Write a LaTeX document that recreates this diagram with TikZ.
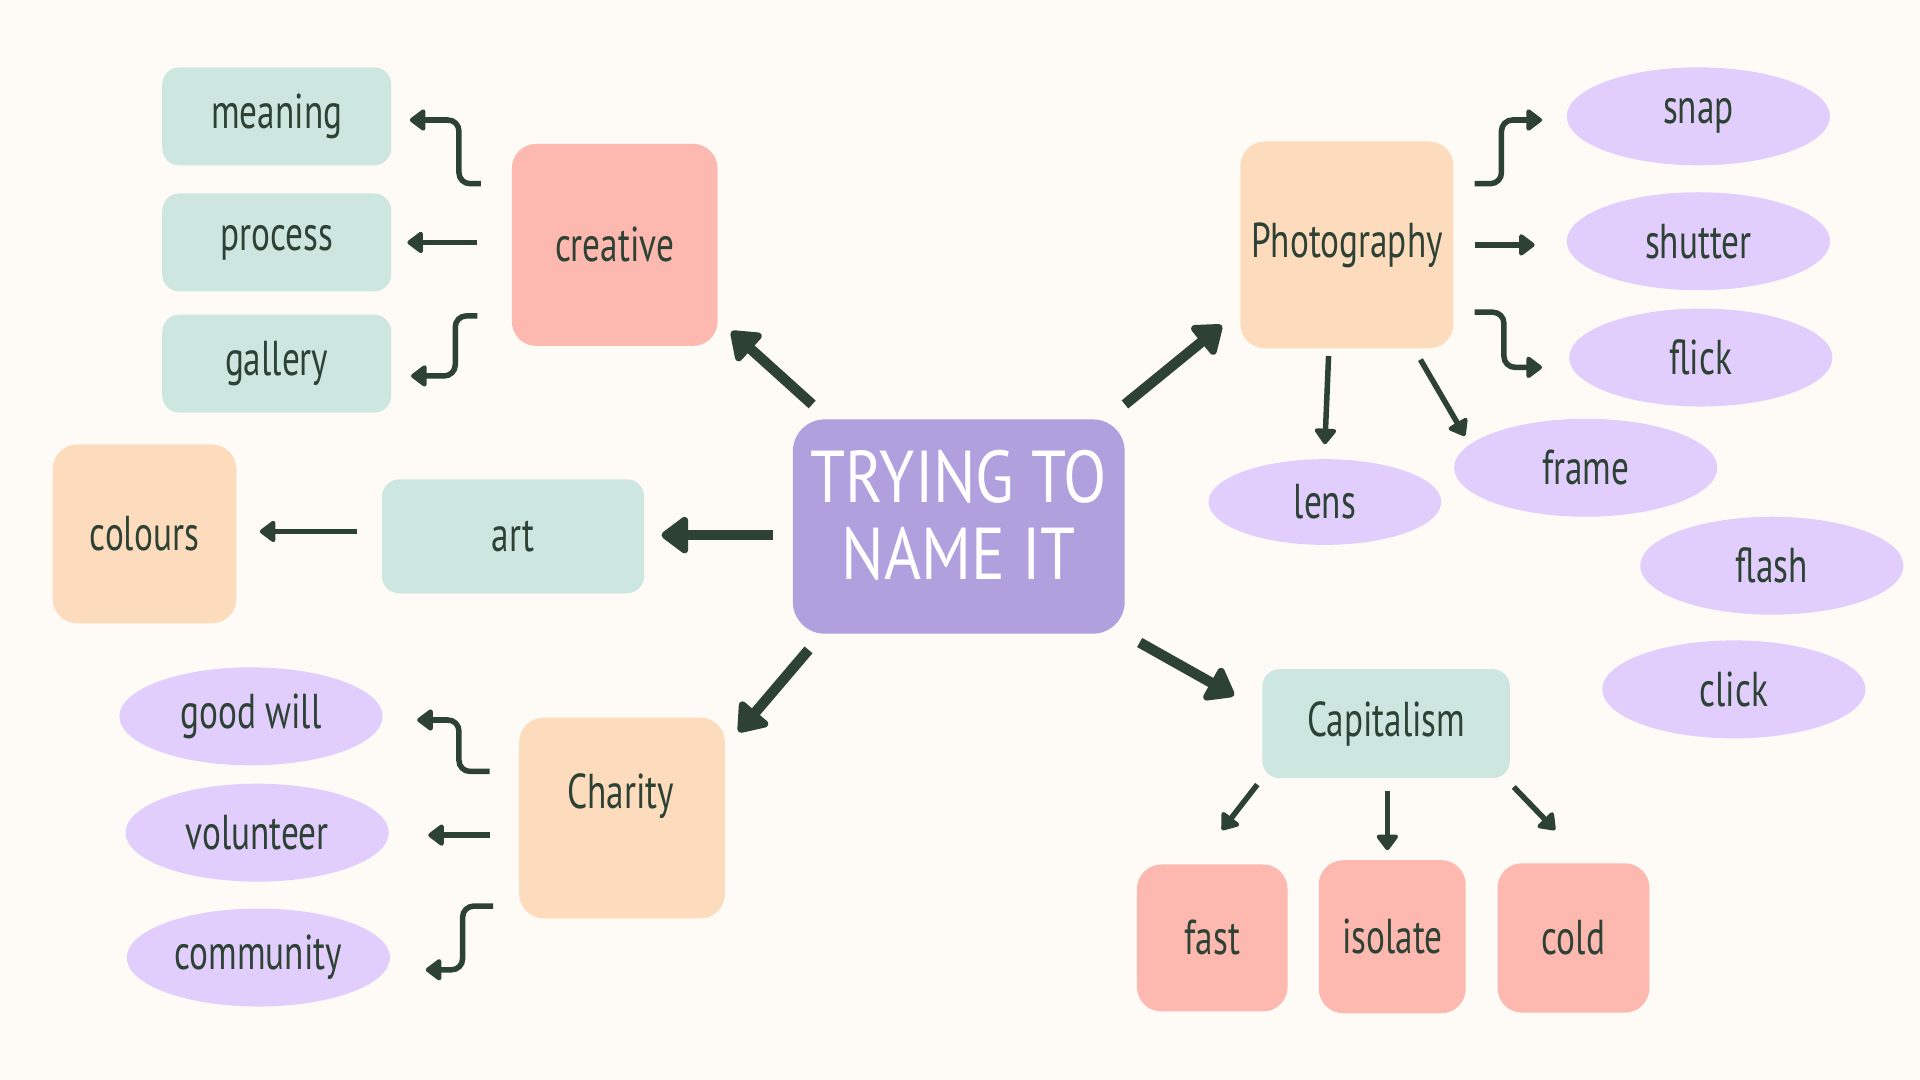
\documentclass[tikz,border=0pt]{standalone}
\usepackage{fontspec}
\setmainfont[FakeStretch=0.72]{PT Sans}
\newfontfamily\titlefont[FakeStretch=0.86]{PT Sans}
\usetikzlibrary{arrows.meta,shapes.geometric,calc}
\definecolor{bg}{HTML}{FEFBF7}
\definecolor{tealc}{HTML}{CDE6DF}
\definecolor{pinkc}{HTML}{FDB8AF}
\definecolor{peachc}{HTML}{FDDCBD}
\definecolor{lavc}{HTML}{E1CEFC}
\definecolor{purpc}{HTML}{B1A0DE}
\definecolor{ink}{HTML}{2D4235}
\begin{document}
\begin{tikzpicture}[x=1pt,y=-1pt,
  lbl/.style={text=ink,font=\fontsize{40}{44}\selectfont,inner sep=0pt},
  tealbox/.style={lbl,fill=tealc,rounded corners=14pt},
  pinkbox/.style={lbl,fill=pinkc,rounded corners=20pt},
  peachbox/.style={lbl,fill=peachc,rounded corners=20pt},
  lav/.style={lbl,fill=lavc,ellipse,minimum width=215pt,minimum height=80pt},
  sarr/.style={draw=ink,line width=4.5pt,-{Triangle[length=14pt,width=20pt,round]}},
  barr/.style={draw=ink,line width=8.5pt,-{Triangle[length=24pt,width=34pt,round]}},
  elb/.style={sarr,rounded corners=9pt}
]
\fill[bg] (0,0) rectangle (1568,882);
\useasboundingbox (0,0) rectangle (1568,882);

% center
\node[fill=purpc,rounded corners=26pt,minimum width=271pt,minimum height=175pt,inner sep=0pt] (main) at (783,430) {};
\node[text=white,font=\titlefont\fontsize{60}{63}\selectfont,align=center,inner sep=0pt] (title) at (783,421) {TRYING TO\\NAME IT};

% creative branch
\node[pinkbox,minimum width=168pt,minimum height=165pt] (creative) at (502,200) {creative};
\node[tealbox,minimum width=187pt,minimum height=80pt] (meaning) at (226,95) {meaning};
\node[tealbox,minimum width=187pt,minimum height=80pt] (process) at (226,198) {process};
\node[tealbox,minimum width=187pt,minimum height=80pt] (gallery) at (226,297) {gallery};

% art branch
\node[tealbox,minimum width=214pt,minimum height=93pt] (art) at (419,438) {art};
\node[peachbox,minimum width=150pt,minimum height=146pt] (colours) at (118,436) {colours};

% charity branch
\node[peachbox,minimum width=168pt,minimum height=164pt] (charity) at (508,668) {};
\node[lbl] (charitytxt) at (507,650) {Charity};
\node[lav] (goodwill) at (205,585) {good will};
\node[lav] (volunteer) at (210,680) {volunteer};
\node[lav] (community) at (211,782) {community};

% photography branch
\node[peachbox,minimum width=174pt,minimum height=169pt] (photo) at (1100,200) {Photography};
\node[lav] (snap) at (1387,95) {snap};
\node[lav] (shutter) at (1387,197) {shutter};
\node[lav] (flick) at (1389,292) {flick};
\node[lav] (frame) at (1295,382) {frame};
\node[lav,minimum width=190pt,minimum height=70pt] (lens) at (1082,410) {lens};
\node[lav] (flash) at (1447,462) {flash};
\node[lav] (click) at (1416,563) {click};

% capitalism branch
\node[tealbox,minimum width=202pt,minimum height=89pt] (cap) at (1132,591) {Capitalism};
\node[pinkbox,minimum width=123pt,minimum height=120pt] (fast) at (990,766) {fast};
\node[pinkbox,minimum width=120pt,minimum height=125pt] (isolate) at (1137,765) {isolate};
\node[pinkbox,minimum width=124pt,minimum height=122pt] (cold) at (1285,766) {cold};

% main arrows
\draw[barr] ($(main.west)+(-16,7)$) -- ($(art.east)+(14,-1)$);
\draw[barr] ($(main.north west)+(16,-12)$) -- ($(creative.south east)+(11,-12)$);
\draw[barr] ($(main.north east)+(0,-12)$) -- ($(photo.south west)+(-15,-19)$);
\draw[barr] ($(main.south west)+(13,13)$) -- ($(charity.north east)+(11,12)$);
\draw[barr] ($(main.south east)+(12,7)$) -- ($(cap.west)+(-23,-23)$);

% creative arrows
\draw[elb] ($(creative.west)+(-25,-50)$) -- ++(-18,0) |- ($(meaning.east)+(15,3)$);
\draw[sarr] ($(creative.west)+(-28,-2)$) -- ($(process.east)+(13,0)$);
\draw[elb] ($(creative.west)+(-28,58)$) -- ++(-18,0) |- ($(gallery.east)+(16,10)$);

% art arrow
\draw[sarr] ($(art.west)+(-20,-4)$) -- ($(colours.east)+(19,-2)$);

% charity arrows
\draw[elb] ($(charity.west)+(-24,-38)$) -- ++(-25,0) |- ($(goodwill.east)+(28,3)$);
\draw[sarr] ($(charity.west)+(-24,14)$) -- ($(volunteer.east)+(32,2)$);
\draw[elb] ($(charity.west)+(-21,72)$) -- ++(-25,0) |- ($(community.east)+(29,10)$);

% photography arrows
\draw[elb] ($(photo.east)+(17,-50)$) -- ++(22,0) |- ($(snap.west)+(-20,3)$);
\draw[sarr] ($(photo.east)+(17,0)$) -- ($(shutter.west)+(-26,3)$);
\draw[elb] ($(photo.east)+(17,55)$) -- ++(24,0) |- ($(flick.west)+(-22,8)$);
\draw[sarr] ($(photo.south)+(-15,6)$) -- ($(lens.north)+(0,-12)$);
\draw[sarr] ($(photo.south)+(60,9)$) -- ($(frame.west)+(9,-26)$);

% capitalism arrows
\draw[sarr] ($(cap.south west)+(-4,5)$) -- ($(fast.north)+(8,-28)$);
\draw[sarr] ($(cap.south)+(1,10)$) -- ($(isolate.north)+(-4,-8)$);
\draw[sarr] ($(cap.south east)+(3,7)$) -- ($(cold.north)+(-15,-27)$);
\end{tikzpicture}
\end{document}
